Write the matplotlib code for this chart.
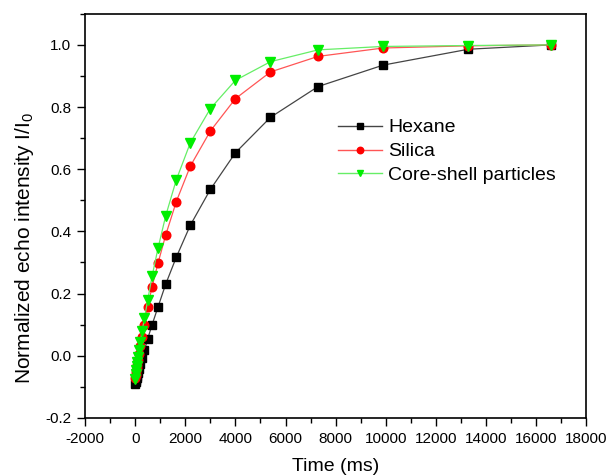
import matplotlib.pyplot as plt
from matplotlib.ticker import MultipleLocator

plt.rcParams['font.family'] = ['Liberation Sans', 'DejaVu Sans']
plt.rcParams['mathtext.fontset'] = 'custom'
plt.rcParams['mathtext.rm'] = 'Liberation Sans'
plt.rcParams['axes.unicode_minus'] = False

# delay times (ms), shared by all three samples
t = [16600, 13300, 9900, 7300, 5400, 4000, 3000, 2200, 1640, 1220, 910,
     670, 500, 370, 275, 200, 150, 110, 80, 60, 40, 20, 5]
hexane = [1.0, 0.986, 0.935, 0.866, 0.767, 0.653, 0.535, 0.420, 0.317,
          0.231, 0.157, 0.099, 0.055, 0.018, -0.008, -0.028, -0.043,
          -0.055, -0.065, -0.072, -0.078, -0.085, -0.092]
silica = [1.0, 0.997, 0.990, 0.963, 0.913, 0.827, 0.723, 0.610, 0.496,
          0.389, 0.298, 0.221, 0.158, 0.100, 0.060, 0.030, 0.006, -0.014,
          -0.030, -0.040, -0.052, -0.062, -0.072]
coreshell = [1.0, 0.998, 0.995, 0.984, 0.946, 0.886, 0.795, 0.685, 0.566,
             0.451, 0.346, 0.255, 0.180, 0.121, 0.080, 0.045, 0.020, -0.004,
             -0.020, -0.034, -0.046, -0.060, -0.075]

fig = plt.figure(figsize=(6.08, 4.76), dpi=100)
ax = fig.add_axes([0.140, 0.122, 0.824, 0.849])

ax.plot(t, hexane, '-', color='#444444', lw=0.9, marker='s', ms=5.8,
        mfc='black', mec='black', label='Hexane')
ax.plot(t, silica, '-', color='#ff5555', lw=0.9, marker='o', ms=6.2,
        mfc='#ff0000', mec='#ff0000', label='Silica')
ax.plot(t, coreshell, '-', color='#66ee66', lw=0.9, marker='v', ms=6.6,
        mfc='#00ee00', mec='#00ee00', label='Core-shell particles')

ax.set_xlim(-2000, 18000)
ax.set_ylim(-0.2, 1.1)
ax.set_xticks(range(-2000, 18001, 2000))
ax.set_yticks([-0.2, 0.0, 0.2, 0.4, 0.6, 0.8, 1.0])
ax.xaxis.set_minor_locator(MultipleLocator(1000))
ax.yaxis.set_minor_locator(MultipleLocator(0.1))
ax.tick_params(which='major', direction='out', length=6, width=1,
               labelsize=11, pad=4, top=False, right=False)
ax.tick_params(which='minor', direction='out', length=3.5, width=1,
               top=False, right=False)
for s in ax.spines.values():
    s.set_linewidth(1.2)

ax.set_xlabel('Time (ms)', fontsize=14)
ax.set_ylabel(r'Normalized echo intensity I/I$_\mathregular{0}$', fontsize=15)
ax.xaxis.set_label_coords(0.5, -0.1)
ax.yaxis.set_label_coords(-0.098, 0.42)

leg = ax.legend(loc='upper left', bbox_to_anchor=(0.505, 0.74), frameon=False,
                fontsize=14, numpoints=1, handlelength=2.27, handletextpad=0.3,
                labelspacing=0.32, borderpad=0, borderaxespad=0,
                markerscale=0.75)
for h in leg.get_lines():
    h.set_linewidth(1.0)

fig.savefig('out.png', dpi=100)
